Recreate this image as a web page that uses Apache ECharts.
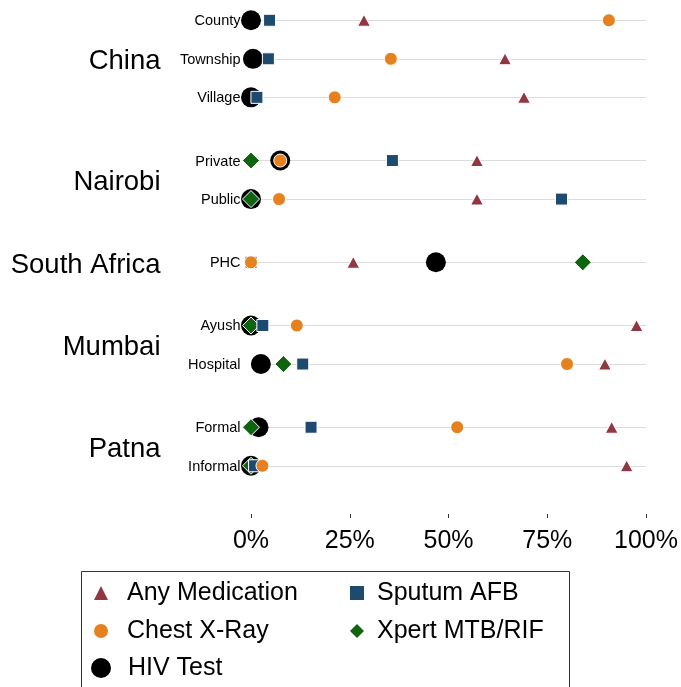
<!DOCTYPE html>
<html>
<head>
<meta charset="utf-8">
<script src="https://cdn.jsdelivr.net/npm/echarts@6/dist/echarts.min.js"></script>
<style>
  html, body { margin: 0; padding: 0; background: #fff; }
  #chart { width: 681px; height: 687px; }
</style>
</head>
<body>
<div id="chart"></div>
<script>
// Sites (groups) and the facility types within each
const groups = ['China', 'Nairobi', 'South Africa', 'Mumbai', 'Patna'];
const rowsPerGroup = [
  ['County', 'Township', 'Village'],
  ['Private', 'Public'],
  ['PHC'],
  ['Ayush', 'Hospital'],
  ['Formal', 'Informal']
];
const rows = ['County', 'Township', 'Village', 'Private', 'Public', 'PHC', 'Ayush', 'Hospital', 'Formal', 'Informal'];

// Share of interactions (%) per row, in the order of `rows`
const anyMedication = [28.6, 64.3, 69.1, 57.2, 57.2, 25.9, 97.6, 89.6, 91.3, 95.1];
const sputumAFB     = [4.7, 4.4, 1.5, 35.8, 78.6, 0, 3.0, 13.1, 15.2, 0.9];
const chestXRay     = [90.6, 35.4, 21.2, 7.4, 7.1, 0, 11.6, 80.0, 52.2, 2.9];
const xpertMTB      = [null, null, null, 0, 0, 84.0, 0, 8.2, 0, 0];
const hivTest       = [0, 0.5, 0, 7.4, 0, 46.8, 0, 2.5, 1.9, 0];

const xTicks = [0, 25, 50, 75, 100];

// Vertical layout: one unit between rows of a group, a wider gap between groups
const GROUP_GAP = 1.64;
const rowPos = [];
const groupPos = [];
(function () {
  let p = 0;
  rowsPerGroup.forEach((g, gi) => {
    if (gi > 0) p += GROUP_GAP - 1;
    const start = p;
    g.forEach(() => { rowPos.push(p); p += 1; });
    groupPos.push((start + p - 1) / 2);
  });
})();

const FONT = '"Liberation Sans", Arial, Helvetica, sans-serif';

function points(values) {
  const out = [];
  values.forEach((v, i) => { if (v !== null) out.push({ name: rows[i], value: [v, rowPos[i]] }); });
  return out;
}

function markerStyle(color, edge) {
  const s = { color: color, opacity: 1 };
  if (edge) { s.borderColor = '#fff'; s.borderWidth = 1; }
  return s;
}

const legendText = { fontSize: 25, color: '#000', lineHeight: 24, fontFamily: FONT };

const chart = echarts.init(document.getElementById('chart'), null, { renderer: 'canvas' });

chart.setOption({
  animation: false,
  backgroundColor: '#fff',
  textStyle: { fontFamily: FONT },
  grid: { left: 251, right: 34, top: 1, height: 501 },
  xAxis: {
    type: 'value',
    min: xTicks[0],
    max: xTicks[xTicks.length - 1],
    interval: 25,
    offset: 12,
    axisLine: { show: false, onZero: false },
    axisTick: { show: true, length: 4, lineStyle: { color: '#333', width: 1 } },
    splitLine: { show: false },
    axisLabel: { formatter: '{value}%', fontSize: 25, color: '#000', margin: 15, fontFamily: FONT }
  },
  yAxis: {
    type: 'value',
    inverse: true,
    min: -0.5,
    max: 12.5,
    show: false
  },
  legend: [
    {
      data: ['Any Medication', 'Chest X-Ray'],
      orient: 'vertical',
      left: 94, top: 579, padding: 0,
      itemWidth: 14, itemHeight: 14, itemGap: 10,
      selectedMode: false,
      itemStyle: { borderWidth: 0 },
      textStyle: Object.assign({ padding: [4, 0, 0, 14] }, legendText)
    },
    {
      data: ['HIV Test'],
      orient: 'vertical',
      left: 91, top: 654, padding: 0,
      itemWidth: 20, itemHeight: 20,
      selectedMode: false,
      itemStyle: { borderWidth: 0 },
      textStyle: Object.assign({ padding: [4, 0, 0, 12] }, legendText)
    },
    {
      data: [
        'Sputum AFB',
        { name: 'Xpert MTB/RIF', icon: 'path://M0,8 L8,0 L16,8 L8,16 Z' }
      ],
      orient: 'vertical',
      left: 350, top: 579, padding: 0,
      itemWidth: 14, itemHeight: 14, itemGap: 10,
      selectedMode: false,
      itemStyle: { borderWidth: 0 },
      textStyle: Object.assign({ padding: [4, 0, 0, 8] }, legendText)
    }
  ],
  graphic: [
    {
      type: 'rect',
      shape: { x: 81.5, y: 571.5, width: 488, height: 140 },
      style: { fill: 'none', stroke: '#333', lineWidth: 1 },
      silent: true
    }
  ],
  series: [
    {
      // row guide lines
      name: 'guides',
      type: 'scatter',
      data: [],
      z: 1,
      silent: true,
      markLine: {
        silent: true,
        z: 1,
        symbol: 'none',
        label: { show: false },
        lineStyle: { color: '#dcdcdc', width: 1, type: 'solid' },
        data: rowPos.map(p => ({ yAxis: p }))
      }
    },
    {
      name: 'HIV Test',
      type: 'scatter',
      symbol: 'circle',
      symbolSize: 20,
      z: 12,
      itemStyle: markerStyle('#000', false),
      data: points(hivTest)
    },
    {
      name: 'Xpert MTB/RIF',
      type: 'scatter',
      symbol: 'diamond',
      symbolSize: 17,
      z: 13,
      itemStyle: markerStyle('#0f650f', true),
      data: points(xpertMTB)
    },
    {
      name: 'Sputum AFB',
      type: 'scatter',
      symbol: 'rect',
      symbolSize: 12,
      z: 14,
      itemStyle: markerStyle('#1f4a6f', true),
      data: points(sputumAFB)
    },
    {
      name: 'Chest X-Ray',
      type: 'scatter',
      symbol: 'circle',
      symbolSize: 13,
      z: 15,
      itemStyle: markerStyle('#e5821f', true),
      data: points(chestXRay)
    },
    {
      name: 'Any Medication',
      type: 'scatter',
      symbol: 'triangle',
      symbolSize: [13, 12],
      z: 16,
      itemStyle: markerStyle('#913741', true),
      data: points(anyMedication)
    },
    {
      // facility labels
      name: 'rowLabels',
      type: 'scatter',
      symbolSize: 1,
      silent: true,
      z: 17,
      itemStyle: { color: 'transparent', opacity: 1 },
      label: {
        show: true, position: 'left', distance: 10, offset: [0, 1],
        formatter: '{b}', fontSize: 14.5, color: '#000', fontFamily: FONT
      },
      data: rows.map((r, i) => ({ name: r, value: [0, rowPos[i]] }))
    },
    {
      // site labels
      name: 'groupLabels',
      type: 'scatter',
      symbolSize: 1,
      silent: true,
      z: 17,
      itemStyle: { color: 'transparent', opacity: 1 },
      label: {
        show: true, position: 'left', distance: 90, offset: [0, 3],
        formatter: '{b}', fontSize: 27.5, color: '#000', fontFamily: FONT
      },
      data: groups.map((g, i) => ({ name: g, value: [0, groupPos[i]] }))
    }
  ]
});
</script>
</body>
</html>
